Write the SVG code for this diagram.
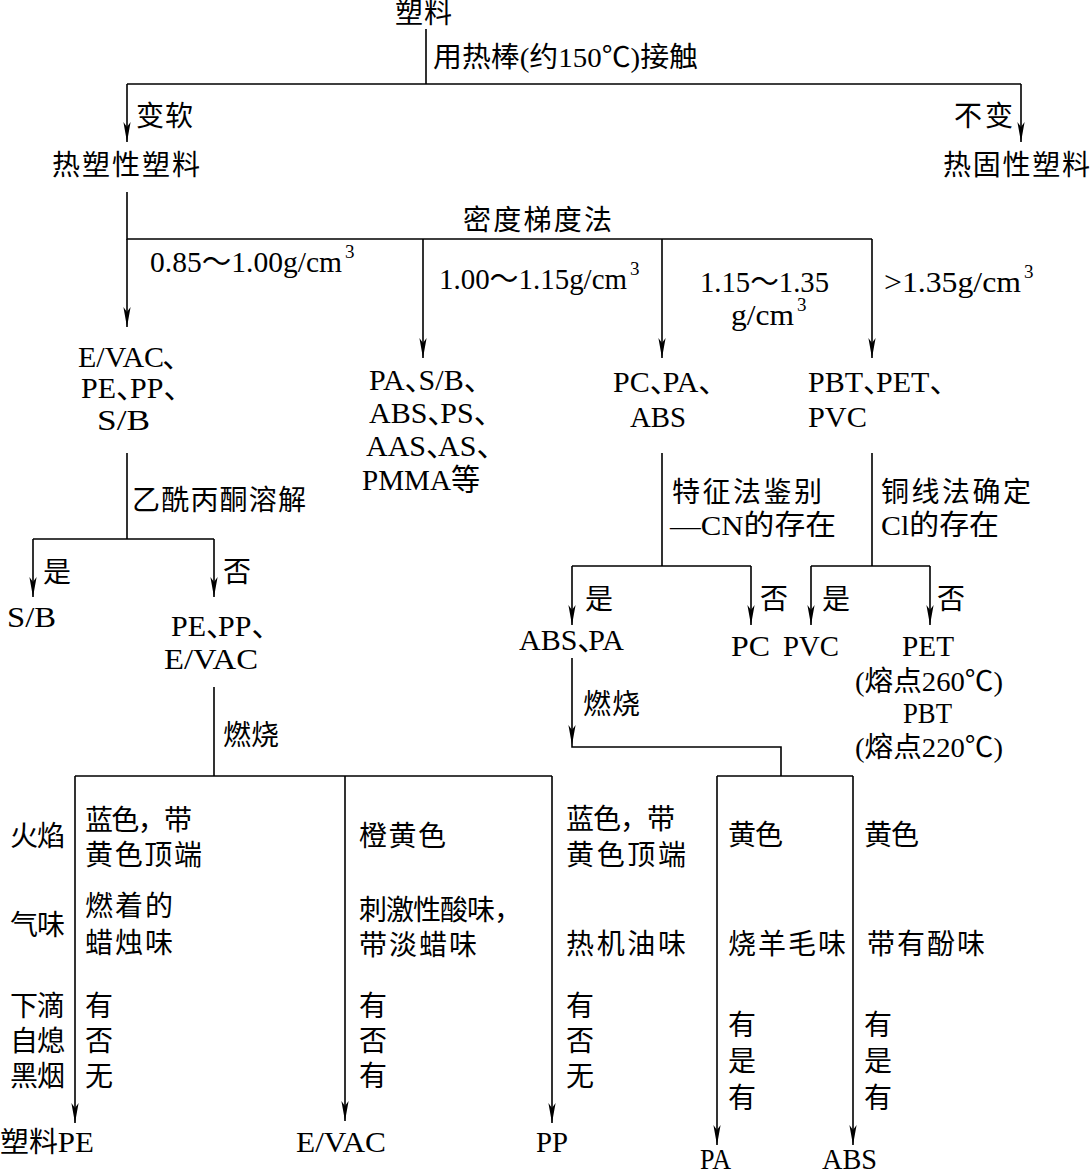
<svg xmlns="http://www.w3.org/2000/svg" width="1092" height="1173" viewBox="0 0 1092 1173">
<defs>
<style>
text{font-family:"Liberation Serif","Noto Sans CJK SC",serif;font-size:28px;fill:#000}
.L{font-size:30px}
.sup{font-size:19px}
.ln{stroke:#000;stroke-width:1.6;fill:none}
.ar{stroke:#000;stroke-width:1.6;fill:none;marker-end:url(#ah)}
</style>
<marker id="ah" viewBox="-20 -5 21 10" refX="0" refY="0" markerWidth="21" markerHeight="10" markerUnits="userSpaceOnUse" orient="auto">
<path d="M0,0 L-20,-3.6 L-15,0 L-20,3.6 Z" fill="#000"/>
</marker>
</defs>
<rect width="1092" height="1173" fill="#fff"/>
<g id="connectors">
<path class="ln" d="M426,29 V84 M127,84 H1021"/>
<path class="ar" d="M127,84 V142"/>
<path class="ar" d="M1021,84 V142"/>
<path class="ln" d="M127,192 V239 H872"/>
<path class="ar" d="M127,239 V327"/>
<path class="ar" d="M423,239 V358"/>
<path class="ar" d="M662,239 V358"/>
<path class="ar" d="M872,239 V358"/>
<path class="ln" d="M127,453 V539 M33,539 H214"/>
<path class="ar" d="M33,539 V597"/>
<path class="ar" d="M214,539 V597"/>
<path class="ln" d="M214,687 V776 M75,776 H552"/>
<path class="ar" d="M75,776 V1123"/>
<path class="ar" d="M345,776 V1121"/>
<path class="ar" d="M552,776 V1123"/>
<path class="ln" d="M662,453 V566 M572,566 H751"/>
<path class="ar" d="M572,566 V625"/>
<path class="ar" d="M751,566 V625"/>
<path class="ln" d="M872,453 V566 M811,566 H930"/>
<path class="ar" d="M811,566 V625"/>
<path class="ar" d="M930,566 V625"/>
<path class="ar" d="M572,658 V745"/>
<path class="ln" d="M572,745 V747 H781 V776 M717,776 H853"/>
<path class="ar" d="M717,776 V1145"/>
<path class="ar" d="M853,776 V1145"/>
</g>
<g id="n-root"><text x="395" y="23" textLength="57">塑料</text></g>
<g id="l-heat"><text x="433" y="67" textLength="265" lengthAdjust="spacingAndGlyphs">用热棒(约150℃)接触</text></g>
<g id="l-soft"><text x="136" y="126" textLength="57">变软</text></g>
<g id="l-nochange"><text x="954" y="126" textLength="59">不变</text></g>
<g id="n-thermoplastic"><text x="52" y="175" textLength="148">热塑性塑料</text></g>
<g id="n-thermoset"><text x="943" y="175" textLength="147">热固性塑料</text></g>
<g id="l-density"><text x="463" y="230" textLength="149">密度梯度法</text></g>
<g id="l-d1"><text class="L" x="150" y="272" textLength="192" lengthAdjust="spacingAndGlyphs">0.85～1.00g/cm</text><text class="sup" x="345" y="258">3</text></g>
<g id="l-d2"><text class="L" x="439" y="289" textLength="188" lengthAdjust="spacingAndGlyphs">1.00～1.15g/cm</text><text class="sup" x="630" y="275">3</text></g>
<g id="l-d3"><text class="L" x="700" y="292" textLength="129" lengthAdjust="spacingAndGlyphs">1.15～1.35</text><text class="L" x="731" y="325" textLength="63" lengthAdjust="spacingAndGlyphs">g/cm</text><text class="sup" x="797" y="311">3</text></g>
<g id="l-d4"><text class="L" x="884" y="292" textLength="137" lengthAdjust="spacingAndGlyphs">&gt;1.35g/cm</text><text class="sup" x="1024" y="278">3</text></g>
<g id="n-low">
<text class="L" x="78" y="367">E/VAC<tspan dx="-2">、</tspan></text>
<text class="L" x="81" y="398">PE<tspan>、</tspan><tspan dx="-16">PP</tspan><tspan>、</tspan></text>
<text class="L" x="97" y="430" textLength="53" lengthAdjust="spacingAndGlyphs">S/B</text>
</g>
<g id="n-mid">
<text class="L" x="369" y="390">PA<tspan>、</tspan><tspan dx="-16">S/B</tspan><tspan>、</tspan></text>
<text class="L" x="369" y="423">ABS<tspan>、</tspan><tspan dx="-17">PS</tspan><tspan>、</tspan></text>
<text class="L" x="366" y="456">AAS<tspan>、</tspan><tspan dx="-18">AS</tspan><tspan>、</tspan></text>
<text class="L" x="362" y="490" textLength="118" lengthAdjust="spacingAndGlyphs">PMMA等</text>
</g>
<g id="n-pcpaabs">
<text class="L" x="613" y="392">PC<tspan>、</tspan><tspan dx="-17">PA</tspan><tspan>、</tspan></text>
<text class="L" x="630" y="427" textLength="56" lengthAdjust="spacingAndGlyphs">ABS</text>
</g>
<g id="n-pbt">
<text class="L" x="808" y="392">PBT<tspan>、</tspan><tspan dx="-17">PET</tspan><tspan>、</tspan></text>
<text class="L" x="808" y="427" textLength="59" lengthAdjust="spacingAndGlyphs">PVC</text>
</g>
<g id="l-acetone"><text x="132" y="510" textLength="174">乙酰丙酮溶解</text></g>
<g id="l-yes1"><text x="43" y="582">是</text></g>
<g id="l-no1"><text x="223" y="582">否</text></g>
<g id="n-sb"><text class="L" x="7" y="627" textLength="49" lengthAdjust="spacingAndGlyphs">S/B</text></g>
<g id="n-pepp">
<text class="L" x="171" y="636">PE<tspan>、</tspan><tspan dx="-18">PP</tspan><tspan>、</tspan></text>
<text class="L" x="164" y="669" textLength="94" lengthAdjust="spacingAndGlyphs">E/VAC</text>
</g>
<g id="l-burn1"><text x="223" y="745" textLength="56">燃烧</text></g>
<g id="l-cn">
<text x="672" y="502" textLength="150">特征法鉴别</text>
<text x="670" y="535" textLength="166" lengthAdjust="spacingAndGlyphs">—CN的存在</text>
</g>
<g id="l-cl">
<text x="881" y="502" textLength="150">铜线法确定</text>
<text x="881" y="535" textLength="118" lengthAdjust="spacingAndGlyphs">Cl的存在</text>
</g>
<g id="l-yes2"><text x="585" y="609">是</text></g>
<g id="l-no2"><text x="760" y="609">否</text></g>
<g id="l-yes3"><text x="822" y="609">是</text></g>
<g id="l-no3"><text x="937" y="609">否</text></g>
<g id="n-abspa"><text class="L" x="519" y="650">ABS<tspan>、</tspan><tspan dx="-19">PA</tspan></text></g>
<g id="n-pc"><text class="L" x="731" y="656" textLength="39" lengthAdjust="spacingAndGlyphs">PC</text></g>
<g id="n-pvc"><text class="L" x="783" y="656" textLength="56" lengthAdjust="spacingAndGlyphs">PVC</text></g>
<g id="n-pet">
<text class="L" x="902" y="656" textLength="52" lengthAdjust="spacingAndGlyphs">PET</text>
<text x="855" y="691" textLength="148" lengthAdjust="spacingAndGlyphs">(熔点260℃)</text>
<text class="L" x="903" y="723" textLength="49" lengthAdjust="spacingAndGlyphs">PBT</text>
<text x="855" y="757" textLength="148" lengthAdjust="spacingAndGlyphs">(熔点220℃)</text>
</g>
<g id="l-burn2"><text x="583" y="714" textLength="57">燃烧</text></g>
<g id="row-labels">
<text x="10" y="846" textLength="55">火焰</text>
<text x="10" y="935" textLength="55">气味</text>
<text x="10" y="1016" textLength="55">下滴</text>
<text x="10" y="1051" textLength="55">自熄</text>
<text x="10" y="1086" textLength="55">黑烟</text>
</g>
<g id="col-pe">
<text x="85" y="830" textLength="107">蓝色，带</text>
<text x="85" y="865" textLength="117">黄色顶端</text>
<text x="85" y="916" textLength="88">燃着的</text>
<text x="85" y="953" textLength="88">蜡烛味</text>
<text x="85" y="1016">有</text>
<text x="85" y="1051">否</text>
<text x="85" y="1086">无</text>
</g>
<g id="col-evac">
<text x="359" y="846" textLength="87">橙黄色</text>
<text x="359" y="920" textLength="163">刺激性酸味，</text>
<text x="359" y="955" textLength="118">带淡蜡味</text>
<text x="359" y="1016">有</text>
<text x="359" y="1051">否</text>
<text x="359" y="1086">有</text>
</g>
<g id="col-pp">
<text x="566" y="829" textLength="109">蓝色，带</text>
<text x="566" y="865" textLength="120">黄色顶端</text>
<text x="566" y="954" textLength="120">热机油味</text>
<text x="566" y="1016">有</text>
<text x="566" y="1051">否</text>
<text x="566" y="1086">无</text>
</g>
<g id="col-pa">
<text x="728" y="845" textLength="55">黄色</text>
<text x="728" y="954" textLength="118">烧羊毛味</text>
<text x="728" y="1035">有</text>
<text x="728" y="1071">是</text>
<text x="728" y="1108">有</text>
</g>
<g id="col-abs">
<text x="864" y="845" textLength="55">黄色</text>
<text x="867" y="954" textLength="118">带有酚味</text>
<text x="864" y="1035">有</text>
<text x="864" y="1071">是</text>
<text x="864" y="1108">有</text>
</g>
<g id="n-final-pe"><text x="0" y="1152" textLength="94" lengthAdjust="spacingAndGlyphs"><tspan>塑料</tspan><tspan class="L">PE</tspan></text></g>
<g id="n-final-evac"><text class="L" x="296" y="1152" textLength="90" lengthAdjust="spacingAndGlyphs">E/VAC</text></g>
<g id="n-final-pp"><text class="L" x="536" y="1152" textLength="32" lengthAdjust="spacingAndGlyphs">PP</text></g>
<g id="n-final-pa"><text class="L" x="700" y="1169" textLength="31" lengthAdjust="spacingAndGlyphs">PA</text></g>
<g id="n-final-abs"><text class="L" x="822" y="1169" textLength="55" lengthAdjust="spacingAndGlyphs">ABS</text></g>
</svg>
